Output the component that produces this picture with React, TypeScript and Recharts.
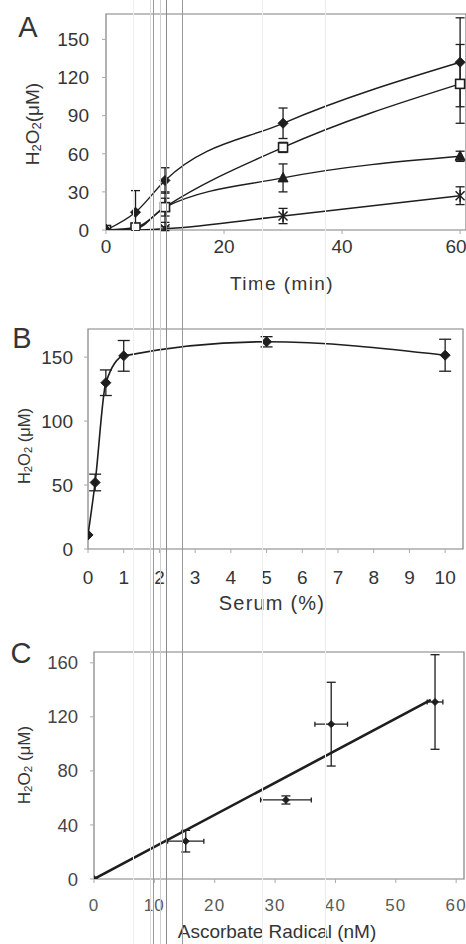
import React from 'react';
import { ComposedChart, Line, Scatter, XAxis, YAxis, ErrorBar, ReferenceArea } from 'recharts';

const FONT = '"Liberation Sans", Arial, Helvetica, sans-serif';
const INK = '#1e1e1e';
const TXT = '#353535';

// ---------- Panel A : H2O2 vs time ----------
const timeMin = [0, 5, 10, 30, 60];
const diamondA = [0, 14, 39, 84, 132];
const diamondAErr: (number | number[])[] = [0, [13, 17], 10, 12, 35];
const squareA = [0, 2, 18, 65, 115];
const squareAErr = [0, 2, 7, 4, 31];
const triangleA = [0, 1, 18, 41, 58];
const triangleAErr = [0, 1, 12, 11, 4];
const starA = [0, 0, 1, 11, 27];
const starAErr = [0, 0, 1.5, 6, 7];
const ticksAX = [0, 20, 40, 60];
const ticksAY = [0, 30, 60, 90, 120, 150];

// ---------- Panel B : H2O2 vs serum ----------
const serumPct = [0, 0.2, 0.5, 1, 5, 10];
const h2o2B = [11, 52, 130, 151, 162, 151.5];
const h2o2BErr = [0, 6.5, 10, 12, 4, 12.5];
const ticksBX = [0, 1, 2, 3, 4, 5, 6, 7, 8, 9, 10];
const ticksBY = [0, 50, 100, 150];

// ---------- Panel C : H2O2 vs ascorbate radical ----------
const ascRadical = [0, 15.2, 31.8, 39.3, 56.5];
const ascRadicalErr = [0, 3, 4.2, 2.7, 1.3];
const h2o2C = [0, 28, 58.5, 114.6, 131];
const h2o2CErr = [0, 8, 3, 31, 35];
const fitX = [0, 55.8];
const fitY = [0, 132.5];
const ticksCX = [0, 10, 20, 30, 40, 50, 60];
const ticksCY = [0, 40, 80, 120, 160];

const dataA = timeMin.map((t, i) => ({
  t,
  d: diamondA[i], dE: diamondAErr[i],
  s: squareA[i], sE: squareAErr[i],
  tr: triangleA[i], trE: triangleAErr[i],
  st: starA[i], stE: starAErr[i],
}));
const dataB = serumPct.map((s, i) => ({ s, v: h2o2B[i], e: h2o2BErr[i] }));
const dataC = ascRadical.map((x, i) => ({ x, y: h2o2C[i], xE: ascRadicalErr[i], yE: h2o2CErr[i] }));
const fitC = fitX.map((x, i) => ({ x, y: fitY[i] }));

const diamond = (r: number) => (p: any) => {
  const { cx, cy, index } = p;
  if (cx == null || cy == null) return <g key={`n${index}`} />;
  return (
    <polygon key={`dm${index}`} points={`${cx},${cy - r} ${cx + r},${cy} ${cx},${cy + r} ${cx - r},${cy}`} fill={INK} stroke={INK} strokeWidth={1} />
  );
};
const squareDot = (p: any) => {
  const { cx, cy, index } = p;
  return <rect key={`sq${index}`} x={cx - 4.5} y={cy - 4.5} width={9} height={9} fill="#fff" stroke={INK} strokeWidth={1.6} />;
};
const triDot = (p: any) => {
  const { cx, cy, index } = p;
  return <polygon key={`tr${index}`} points={`${cx},${cy - 5.5} ${cx + 5},${cy + 4} ${cx - 5},${cy + 4}`} fill={INK} stroke={INK} strokeWidth={1} />;
};
const starDot = (p: any) => {
  const { cx, cy, index } = p;
  return (
    <g key={`st${index}`} stroke={INK} strokeWidth={1.5}>
      <line x1={cx - 4.5} y1={cy - 4.5} x2={cx + 4.5} y2={cy + 4.5} />
      <line x1={cx - 4.5} y1={cy + 4.5} x2={cx + 4.5} y2={cy - 4.5} />
      <line x1={cx} y1={cy - 6} x2={cx} y2={cy + 6} />
    </g>
  );
};
const noShape = () => <g />;

// x tick for panel A: keeps the last label inside the page edge
const TickA = (p: any) => {
  const { x, y, payload, index } = p;
  const last = payload.value === ticksAX[ticksAX.length - 1];
  return (
    <text key={`ta${index}`} x={x + (last ? -4 : 0)} y={y} dy="0.71em" textAnchor="middle" fontFamily={FONT} fontSize={19} fill={TXT}>
      {payload.value}
    </text>
  );
};

const H2O2Label = ({ cx, cy, size, spaced }: { cx: number; cy: number; size: number; spaced?: boolean }) => {
  const sub = size * 0.68;
  const sh = size * 0.22;
  return (
    <text
      x={cx}
      y={cy}
      transform={`rotate(-90 ${cx} ${cy})`}
      textAnchor="middle"
      dominantBaseline="central"
      fontFamily={FONT}
      fontSize={size}
      fill={TXT}
    >
      H<tspan fontSize={sub} dy={sh}>2</tspan>
      <tspan dy={-sh}>O</tspan>
      <tspan fontSize={sub} dy={sh}>2</tspan>
      <tspan dy={-sh}>{spaced ? ' (μM)' : '(μM)'}</tspan>
    </text>
  );
};

const tickStyle = (size: number, fill: string, spacing = 0) => ({
  fontSize: size,
  fill,
  fontFamily: FONT,
  letterSpacing: spacing,
});

const artifactLines = [
  { x: 133, c: '#f0f0f0' },
  { x: 150, c: '#dcdcdc' },
  { x: 153, c: '#9a9a9a' },
  { x: 160, c: '#cfcfcf' },
  { x: 166, c: '#8a8a8a' },
  { x: 182, c: '#999999' },
  { x: 262, c: '#eeeeee' },
  { x: 325, c: '#ececec' },
];

export default function App() {
  return (
    <div style={{ position: 'absolute', left: 0, top: 0, width: 466, height: 944, overflow: 'hidden', background: '#fff' }}>
      {/* Panel A */}
      <div style={{ position: 'absolute', left: 0, top: 0 }}>
        <ComposedChart width={470} height={300} data={dataA} margin={{ top: 14, right: 4, bottom: 0, left: 0 }}>
          <XAxis
            type="number"
            dataKey="t"
            domain={[0, 61]}
            allowDataOverflow
            ticks={ticksAX}
            height={70}
            tickSize={4}
            tickMargin={6}
            axisLine={false}
            tickLine={{ stroke: '#aaa' }}
            tick={TickA}
            label={{
              content: () => (
                <text x={282} y={290} textAnchor="middle" fontFamily={FONT} fontSize={19} letterSpacing={1.4} fill={TXT}>
                  Time (min)
                </text>
              ),
            }}
          />
          <YAxis
            type="number"
            domain={[0, 170]}
            allowDataOverflow
            ticks={ticksAY}
            width={106}
            tickSize={4}
            tickMargin={13}
            axisLine={false}
            tickLine={{ stroke: '#aaa' }}
            tick={tickStyle(19, TXT)}
            label={{ content: () => <H2O2Label cx={32} cy={124} size={19} /> }}
          />
          <ReferenceArea x1={0} x2={61} y1={0} y2={170} fill="none" stroke="#808080" strokeWidth={1.2} ifOverflow="visible" />
          <Line dataKey="st" type="monotone" stroke={INK} strokeWidth={1.4} dot={starDot} isAnimationActive={false}>
            <ErrorBar dataKey="stE" width={4.5} stroke={INK} strokeWidth={1.3} direction="y" />
          </Line>
          <Line dataKey="tr" type="monotone" stroke={INK} strokeWidth={1.4} dot={triDot} isAnimationActive={false}>
            <ErrorBar dataKey="trE" width={4.5} stroke={INK} strokeWidth={1.3} direction="y" />
          </Line>
          <Line dataKey="s" type="monotone" stroke={INK} strokeWidth={1.4} dot={squareDot} isAnimationActive={false}>
            <ErrorBar dataKey="sE" width={4.5} stroke={INK} strokeWidth={1.3} direction="y" />
          </Line>
          <Line dataKey="d" type="monotone" stroke={INK} strokeWidth={1.4} dot={diamond(5)} isAnimationActive={false}>
            <ErrorBar dataKey="dE" width={4.5} stroke={INK} strokeWidth={1.3} direction="y" />
          </Line>
        </ComposedChart>
      </div>

      {/* Panel B */}
      <div style={{ position: 'absolute', left: 0, top: 300 }}>
        <ComposedChart width={470} height={320} data={dataB} margin={{ top: 29, right: 7, bottom: 0, left: 0 }}>
          <XAxis
            type="number"
            dataKey="s"
            domain={[0, 10.5]}
            allowDataOverflow
            ticks={ticksBX}
            height={71}
            tickSize={4}
            tickMargin={18}
            axisLine={false}
            tickLine={{ stroke: '#aaa' }}
            tick={tickStyle(19, TXT)}
            label={{
              content: () => (
                <text x={272} y={310} textAnchor="middle" fontFamily={FONT} fontSize={20} letterSpacing={1.2} fill={TXT}>
                  Serum (%)
                </text>
              ),
            }}
          />
          <YAxis
            type="number"
            domain={[0, 172]}
            allowDataOverflow
            ticks={ticksBY}
            width={88}
            tickSize={4}
            tickMargin={11}
            axisLine={false}
            tickLine={{ stroke: '#aaa' }}
            tick={tickStyle(19, TXT)}
            label={{ content: () => <H2O2Label cx={24} cy={146} size={16.5} spaced /> }}
          />
          <ReferenceArea x1={0} x2={10.5} y1={0} y2={172} fill="none" stroke="#808080" strokeWidth={1.2} ifOverflow="visible" />
          <Line dataKey="v" type="monotone" stroke={INK} strokeWidth={1.6} dot={diamond(5)} isAnimationActive={false}>
            <ErrorBar dataKey="e" width={6} stroke={INK} strokeWidth={1.3} direction="y" />
          </Line>
        </ComposedChart>
      </div>

      {/* Panel C */}
      <div style={{ position: 'absolute', left: 0, top: 620 }}>
        <ComposedChart width={470} height={324} margin={{ top: 32, right: 6, bottom: 0, left: 0 }}>
          <XAxis
            type="number"
            dataKey="x"
            domain={[0, 61.3]}
            allowDataOverflow
            ticks={ticksCX}
            height={65}
            tickSize={4}
            tickMargin={16}
            axisLine={false}
            tickLine={{ stroke: '#aaa' }}
            tick={tickStyle(17, '#5a5a5a', 1.2)}
            label={{
              content: () => (
                <text x={277} y={318} textAnchor="middle" fontFamily={FONT} fontSize={19} fill={TXT}>
                  Ascorbate Radical (nM)
                </text>
              ),
            }}
          />
          <YAxis
            type="number"
            dataKey="y"
            domain={[0, 168]}
            allowDataOverflow
            ticks={ticksCY}
            width={94}
            tickSize={4}
            tickMargin={12}
            axisLine={false}
            tickLine={{ stroke: '#aaa' }}
            tick={tickStyle(18.5, '#454545')}
            label={{ content: () => <H2O2Label cx={24} cy={145} size={17} spaced /> }}
          />
          <ReferenceArea x1={0} x2={61.3} y1={0} y2={168} fill="none" stroke="#808080" strokeWidth={1.2} ifOverflow="visible" />
          <Scatter data={fitC} line={{ stroke: INK, strokeWidth: 2.6 }} shape={noShape} isAnimationActive={false} />
          <Scatter data={dataC} shape={diamond(3.5)} isAnimationActive={false}>
            <ErrorBar dataKey="xE" direction="x" width={2.5} stroke={INK} strokeWidth={1.3} />
            <ErrorBar dataKey="yE" direction="y" width={4.5} stroke={INK} strokeWidth={1.3} />
          </Scatter>
        </ComposedChart>
      </div>

      {/* panel letters and scan streaks */}
      <svg width={466} height={944} style={{ position: 'absolute', left: 0, top: 0, pointerEvents: 'none' }}>
        <text x={28} y={37} textAnchor="middle" fontFamily={FONT} fontSize={29} fill={TXT}>A</text>
        <text x={22} y={348} textAnchor="middle" fontFamily={FONT} fontSize={29} fill={TXT}>B</text>
        <text x={21} y={663} textAnchor="middle" fontFamily={FONT} fontSize={29} fill={TXT}>C</text>
        {artifactLines.map((l) => (
          <line key={l.x} x1={l.x + 0.5} x2={l.x + 0.5} y1={0} y2={944} stroke={l.c} strokeWidth={1} />
        ))}
      </svg>
    </div>
  );
}
